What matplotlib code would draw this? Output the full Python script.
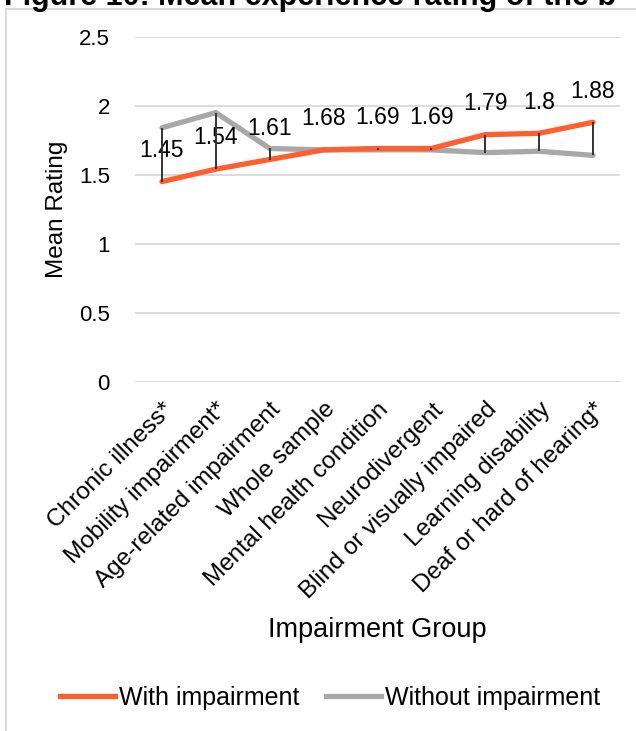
import matplotlib
matplotlib.use("Agg")
import matplotlib.pyplot as plt
from matplotlib.patches import Rectangle

# data
groups = ["Chronic illness*", "Mobility impairment*", "Age-related impairment",
          "Whole sample", "Mental health condition", "Neurodivergent",
          "Blind or visually impaired", "Learning disability",
          "Deaf or hard of hearing*"]
withImpairment = [1.45, 1.54, 1.61, 1.68, 1.69, 1.69, 1.79, 1.80, 1.88]
withoutImpairment = [1.84, 1.95, 1.69, 1.68, 1.68, 1.68, 1.66, 1.67, 1.64]
yTicks = [0, 0.5, 1, 1.5, 2, 2.5]
yTickLabels = ["0", "0.5", "1", "1.5", "2", "2.5"]

orange = "#FF5F2E"
grey = "#AAA7A7"

plt.rcParams["font.family"] = ["Liberation Sans", "DejaVu Sans"]

fig = plt.figure(figsize=(6.36, 7.31), dpi=100)
ax = fig.add_axes([135 / 636, 1 - 381.7 / 731, 485 / 636, (381.7 - 36.7) / 731])

x = list(range(len(groups)))

# grid
for t in yTicks:
    ax.axhline(t, color="#D9D9D9", lw=1.3, zorder=0)

ax.plot(x, withoutImpairment, color=grey, lw=3.8, solid_capstyle="round", zorder=2)
ax.plot(x, withImpairment, color=orange, lw=3.8, solid_capstyle="round", zorder=3)

# high-low lines between the two series
lows = [min(a, b) for a, b in zip(withImpairment, withoutImpairment)]
highs = [max(a, b) for a, b in zip(withImpairment, withoutImpairment)]
ax.vlines(x, lows, highs, color="#333333", lw=1.4, zorder=4)

for i, v in enumerate(withImpairment):
    ax.annotate(f"{v:g}", (i, v), xytext=(0, 22.5), textcoords="offset points",
                ha="center", va="center", fontsize=16.5, color="#000000")

ax.set_xlim(-0.5, len(groups) - 0.5)
ax.set_ylim(0, 2.5)
ax.set_yticks(yTicks)
ax.set_yticklabels(yTickLabels, fontsize=16)
ax.set_xticks(x)
ax.set_xticklabels(groups, rotation=45, ha="right", rotation_mode="anchor",
                   fontsize=17.5)
ax.tick_params(length=0, pad=18, axis="y")
ax.tick_params(length=0, pad=12, axis="x")
for s in ax.spines.values():
    s.set_visible(False)

ax.set_ylabel("Mean Rating", fontsize=17.5, labelpad=8)
ax.set_xlabel("Impairment Group", fontsize=19.5, labelpad=10)

fig.legend(handles=[plt.Line2D([], [], color=orange, lw=3.8),
                    plt.Line2D([], [], color=grey, lw=3.8)],
           labels=["With impairment", "Without impairment"],
           loc="center", bbox_to_anchor=(0.519, 1 - 698 / 731), ncol=2,
           frameon=False, handlelength=2.2, handletextpad=0.15,
           columnspacing=1.1, prop={"size": 18})

# chart border and the cut-off figure caption
fig.patches.append(Rectangle((6 / 636, -0.1), 1.2, 1.1 - 9 / 731, fill=False,
                             edgecolor="#D9D9D9", lw=1.5, transform=fig.transFigure))
fig.text(4 / 636, 1 - 5 / 731, "Figure 10: Mean experience rating of the b",
         fontsize=22, fontweight="bold", va="baseline", ha="left")

fig.savefig("out.png", dpi=100)
